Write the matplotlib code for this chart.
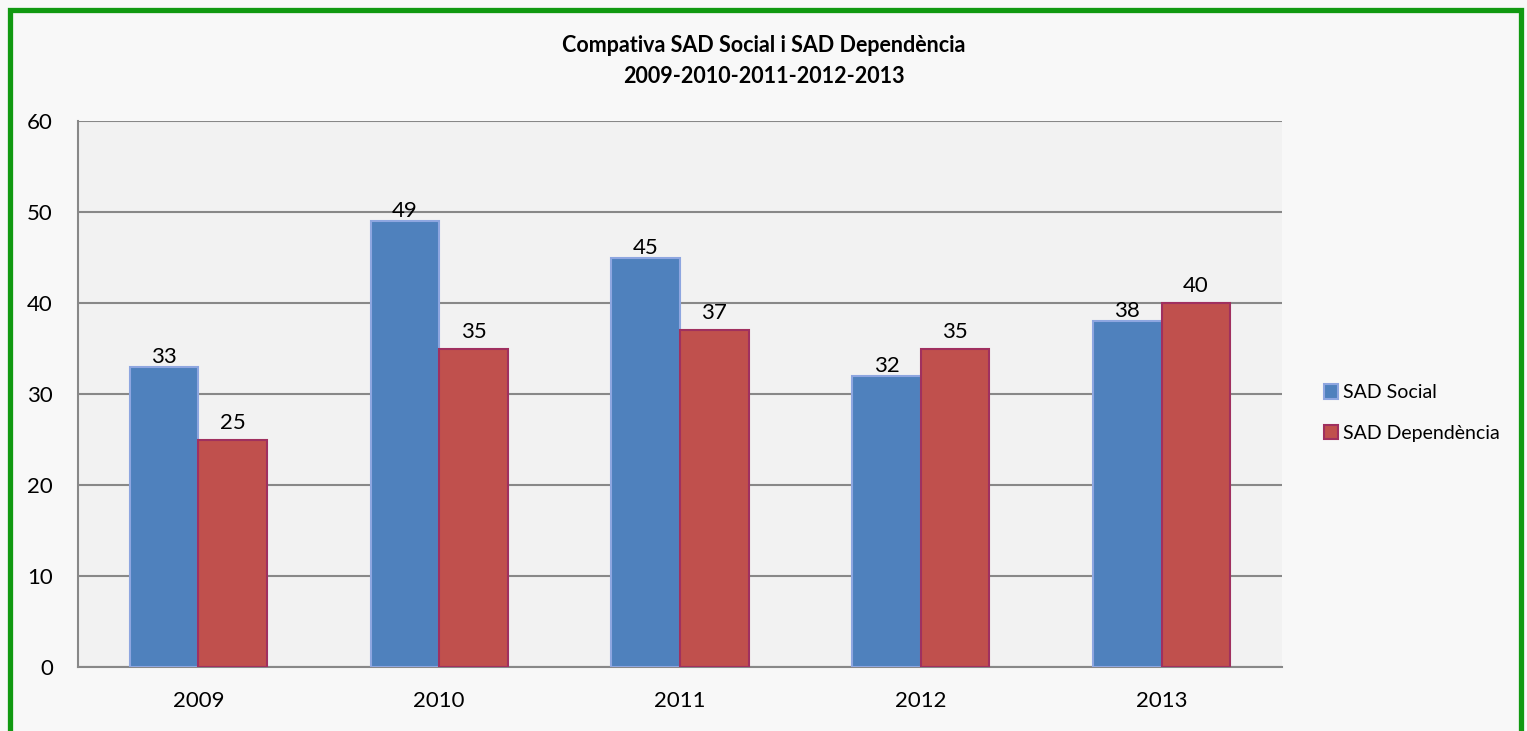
import numpy as np
import matplotlib.pyplot as plt
from matplotlib.patches import Rectangle

plt.rcParams['font.family'] = ['Lato', 'DejaVu Sans']

years = ['2009', '2010', '2011', '2012', '2013']
sad_social = [33, 49, 45, 32, 38]
sad_dependencia = [25, 35, 37, 35, 40]
series_names = ['SAD Social', 'SAD Dependència']
title = 'Compativa SAD Social i SAD Dependència\n2009-2010-2011-2012-2013'

W, H = 1527, 731
fig = plt.figure(figsize=(W / 100, H / 100), dpi=100, facecolor='#f8f8f8')

# green frame round the whole chart
fig.patches.append(Rectangle((10 / W, -0.02), (1521 - 10) / W, (H - 10) / H + 0.02,
                             transform=fig.transFigure, fill=False,
                             edgecolor='#119911', linewidth=3.8, zorder=10))

ax = fig.add_axes([78 / W, (H - 667) / H, (1282 - 78) / W, (667 - 121) / H])
ax.set_facecolor('#f2f2f2')

x = np.arange(len(years))
w = 0.285
b1 = ax.bar(x - w / 2, sad_social, w, color='#4f81bd', edgecolor='#8ea6e0',
            linewidth=1.5, label=series_names[0], zorder=3)
b2 = ax.bar(x + w / 2, sad_dependencia, w, color='#c0504d', edgecolor='#a0305f',
            linewidth=1.5, label=series_names[1], zorder=3)

ax.bar_label(b1, labels=[str(v) for v in sad_social], padding=0, fontsize=16)
ax.bar_label(b2, labels=[str(v) for v in sad_dependencia], padding=5, fontsize=16)

ax.set_xlim(-0.5, len(years) - 0.5)
ax.set_ylim(0, 60)
ax.set_yticks(range(0, 61, 10))
ax.set_xticks(x)
ax.set_xticklabels(years)
ax.tick_params(axis='both', length=0, labelsize=16, colors='black')
ax.tick_params(axis='x', pad=17)
ax.tick_params(axis='y', pad=18)
ax.yaxis.grid(True, color='#888888', linewidth=1.5, zorder=0)
ax.set_axisbelow(True)
for s in ['top', 'right']:
    ax.spines[s].set_visible(False)
for s in ['left', 'bottom']:
    ax.spines[s].set_color('#888888')
    ax.spines[s].set_linewidth(1.5)

fig.text(0.5, (H - 61) / H, title, ha='center', va='center', fontsize=15.5,
         fontweight='bold', linespacing=1.6)

fig.legend(handles=[b1, b2], loc='center left', bbox_to_anchor=(1306 / W, (H - 413) / H),
           frameon=False, fontsize=14, handlelength=0.75, handleheight=0.75,
           handletextpad=0.25, labelspacing=1.2)

fig.savefig('out.png', dpi=100, facecolor=fig.get_facecolor())
